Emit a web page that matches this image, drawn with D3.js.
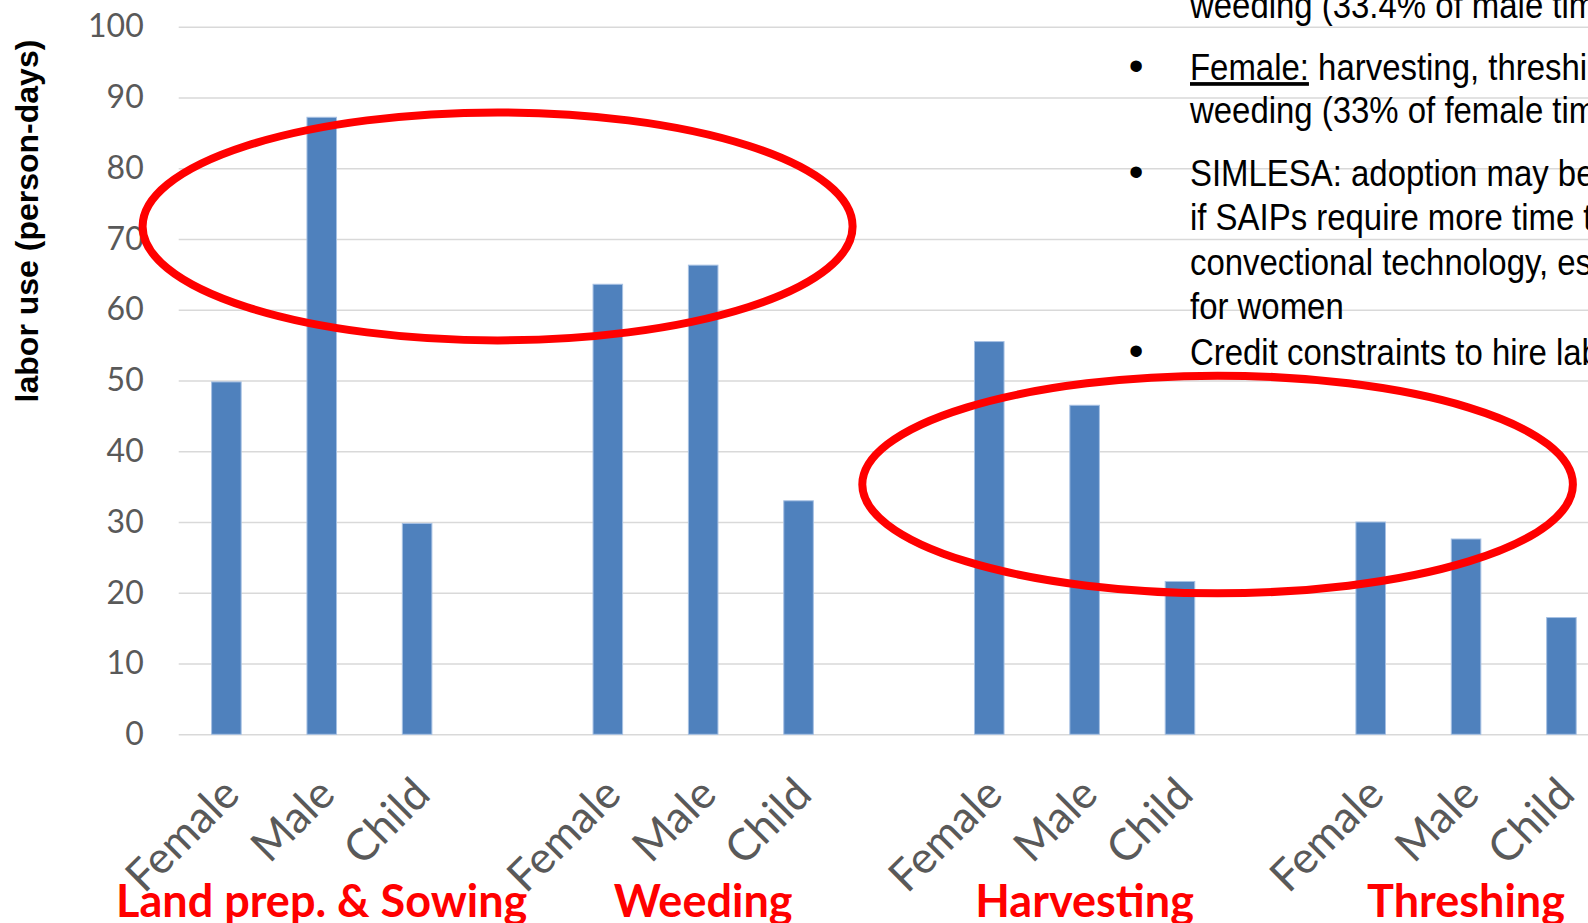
<!DOCTYPE html>
<html>
<head>
<meta charset="utf-8">
<script src="https://cdn.jsdelivr.net/npm/d3@7"></script>
<style>
  html, body { margin: 0; padding: 0; background: #fff; }
  svg { display: block; }
</style>
</head>
<body>
<svg id="chart" width="1588" height="923"></svg>
<script>
// Labor use per activity and household member (person-days)
const activities = ["Land prep. & Sowing", "Weeding", "Harvesting", "Threshing"];
const members = ["Female", "Male", "Child"];
const landPrepSowing = [49.8, 87.2, 29.8];
const weeding = [63.6, 66.3, 33.0];
const harvesting = [55.5, 46.5, 21.6];
const threshing = [30.0, 27.6, 16.5];
const yTicks = [0, 10, 20, 30, 40, 50, 60, 70, 80, 90, 100];
const yTitle = "labor use (person-days)";

// Side notes
const noteLines = [
  { bullet: false, lead: "", text: "weeding (33.4% of  male time)" },
  { bullet: true, lead: "Female:", text: " harvesting, threshing and" },
  { bullet: false, lead: "", text: "weeding (33% of female time)" },
  { bullet: true, lead: "", text: "SIMLESA: adoption may be constrained" },
  { bullet: false, lead: "", text: "if SAIPs require more time than" },
  { bullet: false, lead: "", text: "convectional technology, especially" },
  { bullet: false, lead: "", text: "for women" },
  { bullet: true, lead: "", text: "Credit constraints to hire labor" }
];

const series = [landPrepSowing, weeding, harvesting, threshing];
const W = 1588, H = 923;
const svg = d3.select("#chart");
svg.append("rect").attr("width", W).attr("height", H).attr("fill", "#fff");

// Each activity takes three slots plus one empty slot after it
const slots = [];
const bars = [];
activities.forEach((a, gi) => {
  members.forEach((m, mi) => {
    const key = a + "|" + m;
    slots.push(key);
    bars.push({ key, activity: a, member: m, value: series[gi][mi] });
  });
  slots.push(a + "|gap");
});

const plotLeft = 178.7;
const step = 95.36;
const x = d3.scaleBand()
  .domain(slots)
  .range([plotLeft, plotLeft + step * slots.length])
  .paddingInner(0.69)
  .paddingOuter(0.345);

const y = d3.scaleLinear().domain([0, 100]).range([734.3, 26.7]);

// Gridlines and value labels
const yAxis = d3.axisLeft(y)
  .tickValues(yTicks)
  .tickSize(-(W - plotLeft))
  .tickPadding(35)
  .tickFormat(d3.format("d"));
const gy = svg.append("g").attr("transform", `translate(${plotLeft},0)`).call(yAxis);
gy.select(".domain").remove();
gy.selectAll(".tick line").attr("stroke", "#d9d9d9").attr("stroke-width", 1.5);
gy.selectAll(".tick text")
  .attr("fill", "#595959")
  .style("font-family", "Lato, 'Open Sans', sans-serif")
  .style("font-size", "32px");

// Bars
svg.append("g").selectAll("rect")
  .data(bars)
  .join("rect")
  .attr("x", d => x(d.key))
  .attr("width", x.bandwidth())
  .attr("y", d => y(d.value))
  .attr("height", d => y(0) - y(d.value))
  .attr("fill", "#4f81bd")
  .attr("stroke", "#a7c1e3")
  .attr("stroke-width", 1);

// Member labels under each bar
const xAxis = d3.axisBottom(x)
  .tickValues(bars.map(d => d.key))
  .tickSize(0)
  .tickFormat(k => k.split("|")[1]);
const gx = svg.append("g").attr("transform", `translate(0,${y(0)})`).call(xAxis);
gx.select(".domain").remove();
gx.selectAll(".tick text")
  .attr("fill", "#595959")
  .attr("text-anchor", "end")
  .attr("x", 0)
  .attr("y", 0)
  .attr("dy", "0.72em")
  .attr("transform", "translate(-7,40) rotate(-45)")
  .style("font-family", "Lato, 'Open Sans', sans-serif")
  .style("font-size", "44px");

// Activity names, centred under the middle bar of each group
svg.append("g").selectAll("text")
  .data(activities)
  .join("text")
  .attr("x", a => x(a + "|Male") + x.bandwidth() / 2)
  .attr("y", 917)
  .attr("text-anchor", "middle")
  .attr("fill", "#ff0000")
  .style("font-family", "Lato, 'Open Sans', sans-serif")
  .style("font-weight", "bold")
  .style("font-size", "45px")
  .text(a => a);

// Axis title
svg.append("text")
  .attr("transform", "translate(38,221) rotate(-90)")
  .attr("text-anchor", "middle")
  .attr("fill", "#000")
  .style("font-family", "'Liberation Sans', Arial, sans-serif")
  .style("font-weight", "bold")
  .style("font-size", "32px")
  .text(yTitle);

// Notes block, set in a narrowed sans
const baselines = [18.3, 80, 123.3, 186, 230, 275, 319.3, 365];
const notes = svg.append("g")
  .style("font-family", "'Liberation Sans', Arial, sans-serif")
  .style("font-size", "37px")
  .attr("fill", "#000");
const noteText = notes.append("g").attr("transform", "translate(1190,0) scale(0.89,1)");
noteLines.forEach((ln, i) => {
  const t = noteText.append("text")
    .attr("x", 0)
    .attr("y", baselines[i]);
  if (ln.lead) {
    t.append("tspan").style("text-decoration", "underline").text(ln.lead);
  }
  t.append("tspan").text(ln.text);
  if (ln.bullet) {
    notes.append("text")
      .attr("x", 1136)
      .attr("y", baselines[i])
      .attr("text-anchor", "middle")
      .style("font-size", "42px")
      .text("\u2022");
  }
});

// Highlight ellipses
const highlights = [
  { cx: 497.6, cy: 226.4, rx: 355, ry: 114 },
  { cx: 1217.6, cy: 484.5, rx: 355.3, ry: 108.8 }
];
svg.append("g").selectAll("ellipse")
  .data(highlights)
  .join("ellipse")
  .attr("cx", d => d.cx)
  .attr("cy", d => d.cy)
  .attr("rx", d => d.rx)
  .attr("ry", d => d.ry)
  .attr("fill", "none")
  .attr("stroke", "#ff0000")
  .attr("stroke-width", 8);
</script>
</body>
</html>
